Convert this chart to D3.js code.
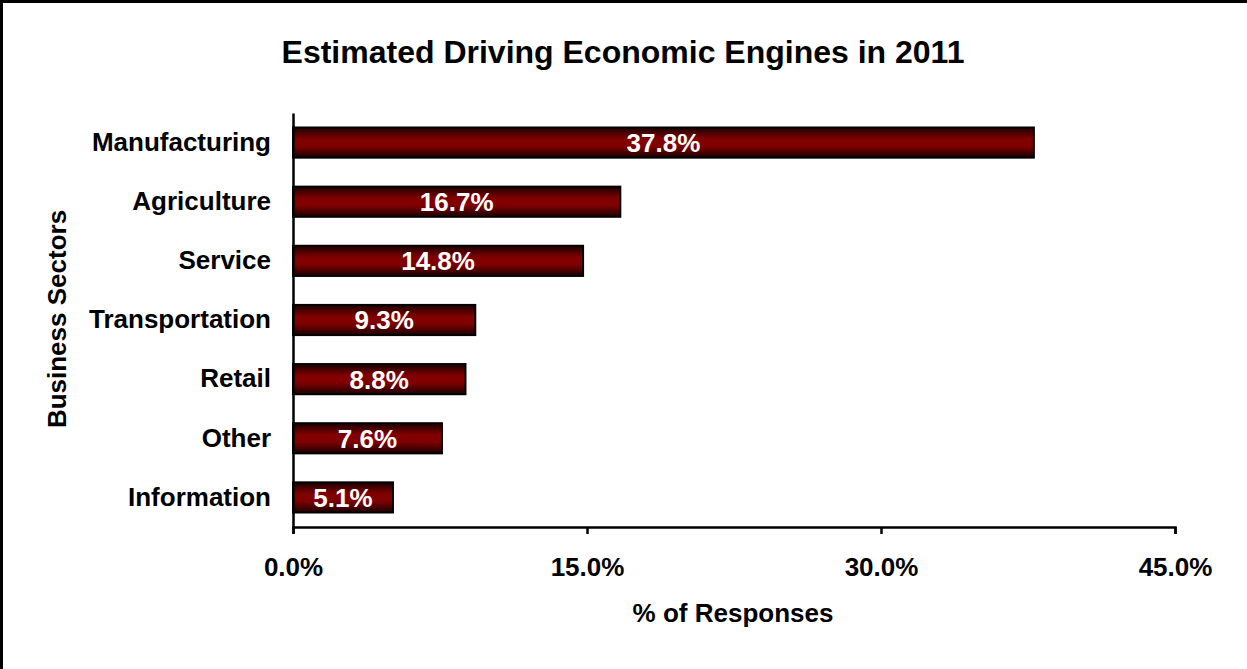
<!DOCTYPE html>
<html>
<head>
<meta charset="utf-8">
<script src="https://cdn.jsdelivr.net/npm/d3@7"></script>
<style>
  body { margin: 0; background: white; }
  text { font-family: Arial, "Liberation Sans", sans-serif; font-weight: bold; }
</style>
</head>
<body>
<div id="chart"></div>
<script>
const sectors = ["Manufacturing", "Agriculture", "Service", "Transportation", "Retail", "Other", "Information"];
const shares = [37.8, 16.7, 14.8, 9.3, 8.8, 7.6, 5.1];
const tickValues = [0, 15, 30, 45];

const data = sectors.map((s, i) => ({ sector: s, value: shares[i] }));

const width = 1247;
const height = 669;
const margin = { top: 113, right: 72, bottom: 142, left: 293 };

const svg = d3.select("#chart")
    .append("svg")
    .attr("width", width)
    .attr("height", height);

// outer frame (only top + left visible in the original)
svg.append("rect")
    .attr("x", 1.5)
    .attr("y", 1.5)
    .attr("width", width + 10)
    .attr("height", height + 10)
    .attr("fill", "white")
    .attr("stroke", "black")
    .attr("stroke-width", 3);

const defs = svg.append("defs");
const grad = defs.append("linearGradient")
    .attr("id", "barGrad")
    .attr("x1", 0).attr("y1", 0)
    .attr("x2", 0).attr("y2", 1);
grad.append("stop").attr("offset", "0%").attr("stop-color", "#1a0000");
grad.append("stop").attr("offset", "38%").attr("stop-color", "#800000");
grad.append("stop").attr("offset", "62%").attr("stop-color", "#800000");
grad.append("stop").attr("offset", "100%").attr("stop-color", "#1a0000");

const x = d3.scaleLinear()
    .domain([0, 45])
    .range([margin.left, width - margin.right]);

const y = d3.scaleBand()
    .domain(sectors)
    .range([margin.top, height - margin.bottom])
    .paddingInner(0.49)
    .paddingOuter(0.245);

// bars
svg.selectAll("rect.bar")
    .data(data)
    .enter()
    .append("rect")
    .attr("class", "bar")
    .attr("x", x(0))
    .attr("y", d => y(d.sector))
    .attr("width", d => x(d.value) - x(0))
    .attr("height", y.bandwidth())
    .attr("fill", "url(#barGrad)")
    .attr("stroke", "black")
    .attr("stroke-width", 2);

// value labels
svg.selectAll("text.val")
    .data(data)
    .enter()
    .append("text")
    .attr("class", "val")
    .attr("x", d => (x(0) + x(d.value)) / 2)
    .attr("y", d => y(d.sector) + y.bandwidth() / 2)
    .attr("dy", "0.36em")
    .attr("text-anchor", "middle")
    .attr("fill", "white")
    .style("font-size", "26px")
    .text(d => d.value.toFixed(1) + "%");

// x axis
const xAxis = svg.append("g")
    .attr("transform", `translate(0,${height - margin.bottom})`)
    .call(d3.axisBottom(x)
        .tickValues(tickValues)
        .tickSize(7)
        .tickPadding(24)
        .tickFormat(d => d.toFixed(1) + "%"));
xAxis.select(".domain").attr("stroke-width", 2.5);
xAxis.selectAll(".tick line").attr("stroke-width", 2.5);
xAxis.selectAll(".tick text")
    .attr("fill", "black")
    .style("font-size", "26px")
    .style("font-family", "Arial, 'Liberation Sans', sans-serif")
    .style("font-weight", "bold");

// y axis
const yAxis = svg.append("g")
    .attr("transform", `translate(${margin.left},0)`)
    .call(d3.axisLeft(y).tickSize(0).tickPadding(22));
yAxis.select(".domain").attr("stroke-width", 2.5);
yAxis.selectAll(".tick text")
    .attr("fill", "black")
    .style("font-size", "26px")
    .style("font-family", "Arial, 'Liberation Sans', sans-serif")
    .style("font-weight", "bold");

// titles
svg.append("text")
    .attr("x", 623)
    .attr("y", 63)
    .attr("text-anchor", "middle")
    .style("font-size", "32px")
    .text("Estimated Driving Economic Engines in 2011");

svg.append("text")
    .attr("x", 733)
    .attr("y", 622)
    .attr("text-anchor", "middle")
    .style("font-size", "26px")
    .text("% of Responses");

svg.append("text")
    .attr("transform", "translate(66,319) rotate(-90)")
    .attr("text-anchor", "middle")
    .style("font-size", "26px")
    .text("Business Sectors");
</script>
</body>
</html>
